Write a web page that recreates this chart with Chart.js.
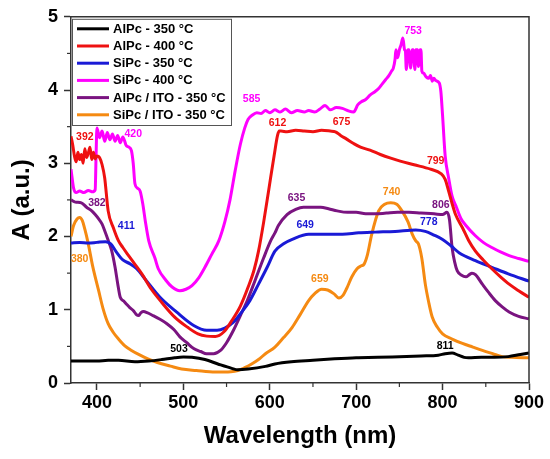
<!DOCTYPE html>
<html>
<head>
<meta charset="utf-8">
<script src="https://cdn.jsdelivr.net/npm/chart.js@4.4.1/dist/chart.umd.min.js"></script>
<style>
  html, body { margin: 0; padding: 0; background: #fff; }
  #wrap { width: 550px; height: 459px; }
</style>
</head>
<body>
<div id="wrap"><canvas id="uv" width="550" height="459"></canvas></div>
<script>
// series labels and colours
const seriesNames = ["AlPc - 350 °C", "AlPc - 400 °C", "SiPc - 350 °C", "SiPc - 400 °C", "AlPc / ITO - 350 °C", "SiPc / ITO - 350 °C"];
const seriesColors = ["#000000", "#ee1111", "#1a1ad6", "#ff00ff", "#7a1480", "#f58a12"];

// AlPc - 350 °C
const blackWl = [370, 385, 400, 413, 425, 444, 460, 475, 490, 500, 510, 525, 540, 556, 563, 575, 595, 606, 625, 650, 675, 700, 725, 750, 775, 795, 803, 811, 818, 825, 830, 845, 860, 876, 890, 900];
const blackA = [0.30, 0.30, 0.30, 0.31, 0.31, 0.29, 0.30, 0.32, 0.345, 0.354, 0.35, 0.32, 0.26, 0.20, 0.18, 0.19, 0.227, 0.26, 0.29, 0.31, 0.33, 0.345, 0.35, 0.36, 0.37, 0.38, 0.40, 0.41, 0.38, 0.35, 0.345, 0.35, 0.35, 0.36, 0.39, 0.41];

// AlPc - 400 °C
const redWl = [370, 372, 374, 376, 378, 380, 382, 384, 386, 388, 390, 392, 394, 396, 398, 400, 403, 406, 409, 413, 419, 425, 430, 436, 444, 452, 463, 475, 490, 505, 517, 527, 537, 547, 556, 566, 575, 582, 587, 593, 599, 605, 609, 611, 613, 620, 630, 640, 650, 660, 670, 676, 682, 689, 697, 705, 716, 728, 740, 751, 767, 786, 798, 803, 807, 811, 815, 823, 830, 838, 847, 857, 867, 877, 888, 900];
const redA = [3.37, 3.25, 3.10, 3.02, 3.15, 3.05, 3.12, 3.00, 3.20, 3.08, 3.14, 3.22, 3.05, 3.15, 3.06, 3.10, 3.08, 2.98, 2.80, 2.35, 2.12, 1.94, 1.85, 1.75, 1.62, 1.49, 1.28, 1.10, 0.90, 0.76, 0.67, 0.64, 0.635, 0.70, 0.85, 1.05, 1.31, 1.55, 1.80, 2.20, 2.65, 3.10, 3.38, 3.44, 3.44, 3.43, 3.45, 3.44, 3.43, 3.45, 3.44, 3.43, 3.38, 3.33, 3.27, 3.22, 3.18, 3.12, 3.07, 3.03, 2.98, 2.92, 2.86, 2.78, 2.62, 2.45, 2.30, 2.12, 1.95, 1.80, 1.68, 1.56, 1.45, 1.35, 1.26, 1.17];

// SiPc - 350 °C
const blueWl = [370, 380, 390, 400, 410, 416, 423, 430, 438, 446, 457, 473, 492, 512, 527, 539, 548, 558, 567, 577, 587, 597, 606, 616, 626, 645, 665, 684, 703, 722, 745, 769, 780, 790, 800, 810, 819, 838, 857, 876, 900];
const blueA = [1.91, 1.92, 1.91, 1.92, 1.93, 1.90, 1.78, 1.68, 1.63, 1.56, 1.40, 1.17, 0.97, 0.785, 0.72, 0.72, 0.75, 0.83, 0.96, 1.125, 1.35, 1.58, 1.80, 1.90, 1.96, 2.03, 2.03, 2.03, 2.05, 2.06, 2.07, 2.09, 2.07, 2.02, 1.96, 1.87, 1.78, 1.67, 1.58, 1.49, 1.39];

// SiPc - 400 °C
const magWl = [370, 373, 376, 380, 385, 390, 395, 398, 399, 400, 403, 406, 409, 412, 415, 418, 421, 424, 427, 430, 434, 437, 440, 442, 444, 447, 450, 453, 456, 460, 467, 471, 480, 487, 496, 503, 510, 518, 525, 533, 541, 548, 554, 560, 566, 571, 575, 580, 585, 590, 595, 600, 606, 612, 618, 625, 632, 640, 645, 652, 658, 664, 670, 677, 684, 690, 697, 702, 706, 711, 716, 722, 726, 730, 734, 738, 741, 743, 745, 746, 748, 750, 752, 754, 756, 757, 758, 760, 761, 763, 765, 766, 768, 769, 771, 772, 774, 775, 776, 778, 781, 784, 786, 788, 790, 792, 796, 798, 800, 803, 807, 811, 816, 821, 827, 838, 847, 857, 867, 877, 888, 900];
const magA = [2.92, 2.66, 2.60, 2.62, 2.60, 2.63, 2.61, 2.64, 3.10, 3.48, 3.35, 3.44, 3.30, 3.42, 3.32, 3.40, 3.30, 3.38, 3.28, 3.36, 3.24, 3.22, 3.17, 3.00, 2.72, 2.66, 2.62, 2.45, 2.21, 1.94, 1.71, 1.56, 1.40, 1.31, 1.26, 1.28, 1.33, 1.44, 1.58, 1.76, 1.94, 2.20, 2.50, 2.90, 3.26, 3.48, 3.60, 3.66, 3.69, 3.68, 3.72, 3.69, 3.73, 3.70, 3.74, 3.69, 3.72, 3.70, 3.72, 3.70, 3.74, 3.79, 3.73, 3.76, 3.75, 3.72, 3.70, 3.80, 3.84, 3.87, 3.93, 3.98, 4.02, 4.08, 4.14, 4.20, 4.26, 4.30, 4.42, 4.55, 4.44, 4.55, 4.62, 4.71, 4.55, 4.53, 4.28, 4.55, 4.55, 4.30, 4.55, 4.55, 4.28, 4.55, 4.55, 4.32, 4.55, 4.55, 4.26, 4.23, 4.18, 4.16, 4.20, 4.12, 4.16, 4.13, 4.10, 3.98, 3.65, 3.10, 2.80, 2.55, 2.40, 2.25, 2.15, 2.01, 1.92, 1.85, 1.79, 1.74, 1.70, 1.66];

// AlPc / ITO - 350 °C
const purpleWl = [370, 375, 382, 388, 394, 398, 402, 406, 409, 413, 417, 421, 424, 427, 431, 434, 438, 442, 446, 448, 451, 454, 458, 465, 473, 481, 489, 496, 504, 512, 520, 527, 535, 543, 550, 558, 566, 574, 583, 593, 601, 606, 610, 620, 630, 639, 649, 659, 668, 678, 690, 700, 711, 722, 735, 748, 761, 775, 790, 800, 805, 808, 811, 814, 817, 822, 827, 831, 834, 838, 846, 853, 861, 869, 877, 888, 900];
const purpleA = [2.50, 2.47, 2.46, 2.40, 2.35, 2.30, 2.24, 2.17, 2.08, 1.95, 1.81, 1.58, 1.36, 1.17, 1.12, 1.08, 1.03, 0.99, 0.93, 0.92, 0.96, 0.975, 0.96, 0.92, 0.87, 0.81, 0.73, 0.63, 0.55, 0.47, 0.43, 0.40, 0.40, 0.445, 0.55, 0.72, 0.92, 1.125, 1.40, 1.71, 1.94, 2.05, 2.15, 2.30, 2.37, 2.40, 2.40, 2.40, 2.38, 2.35, 2.33, 2.33, 2.31, 2.31, 2.32, 2.33, 2.33, 2.32, 2.31, 2.30, 2.33, 2.23, 1.85, 1.65, 1.53, 1.47, 1.45, 1.48, 1.50, 1.48, 1.35, 1.24, 1.125, 1.04, 0.97, 0.91, 0.875];

// SiPc / ITO - 350 °C
const orangeWl = [370, 373, 377, 380, 383, 386, 390, 395, 402, 407, 413, 419, 425, 432, 440, 450, 459, 470, 485, 498, 515, 537, 555, 563, 571, 579, 587, 595, 606, 616, 626, 635, 645, 652, 660, 667, 674, 680, 685, 689, 695, 701, 706, 709, 713, 718, 726, 733, 740, 747, 753, 760, 765, 769, 772, 776, 780, 784, 788, 794, 800, 811, 823, 835, 846, 858, 869, 880, 900];
const orangeA = [2.00, 2.15, 2.24, 2.26, 2.22, 2.10, 1.90, 1.60, 1.26, 1.02, 0.81, 0.69, 0.60, 0.51, 0.445, 0.38, 0.33, 0.28, 0.23, 0.19, 0.17, 0.15, 0.155, 0.17, 0.21, 0.26, 0.32, 0.40, 0.49, 0.62, 0.76, 0.93, 1.125, 1.22, 1.28, 1.27, 1.22, 1.16, 1.20, 1.29, 1.45, 1.56, 1.60, 1.62, 1.75, 2.03, 2.35, 2.44, 2.46, 2.44, 2.35, 2.20, 2.03, 1.94, 1.90, 1.70, 1.35, 1.10, 0.90, 0.76, 0.67, 0.60, 0.54, 0.49, 0.445, 0.40, 0.36, 0.35, 0.345];

// peak labels: text, anchor wavelength, anchor absorbance, series index
const peakText = ["392", "420", "382", "411", "380", "503", "585", "612", "675", "753", "799", "635", "649", "740", "806", "778", "659", "811"];
const peakWl = [386, 442, 400, 434, 380, 495, 579, 609, 683, 766, 792, 631, 641, 741, 798, 784, 658, 803];
const peakA = [3.36, 3.40, 2.46, 2.14, 1.69, 0.46, 3.87, 3.55, 3.56, 4.81, 3.03, 2.53, 2.15, 2.61, 2.43, 2.19, 1.42, 0.51];
const peakSeries = [1, 3, 4, 2, 5, 0, 3, 1, 1, 3, 1, 4, 2, 5, 4, 2, 5, 0];

const xMajor = [400, 500, 600, 700, 800, 900];
const xMinor = [450, 550, 650, 750, 850];
const yMajor = [0, 1, 2, 3, 4, 5];
const yMinor = [0.5, 1.5, 2.5, 3.5, 4.5];

const allWl = [blackWl, redWl, blueWl, magWl, purpleWl, orangeWl];
const allA = [blackA, redA, blueA, magA, purpleA, orangeA];

const FONT = "'Liberation Sans', Arial, sans-serif";
const AXIS = "#333333";

const datasets = seriesNames.map((name, i) => ({
    label: name,
    data: allWl[i].map((w, k) => ({ x: w, y: allA[i][k] })),
    borderColor: seriesColors[i],
    backgroundColor: seriesColors[i],
    borderWidth: 3,
    pointRadius: 0,
    cubicInterpolationMode: "monotone",
    fill: false
}));

// minor ticks, top/right frame
const framePlugin = {
    id: "frame",
    afterDraw(chart) {
        const { ctx, chartArea: a, scales: { x, y } } = chart;
        ctx.save();
        ctx.strokeStyle = AXIS;
        ctx.lineWidth = 1.5;
        ctx.beginPath();
        ctx.moveTo(a.left, a.top);
        ctx.lineTo(a.right, a.top);
        ctx.lineTo(a.right, a.bottom);
        ctx.stroke();
        ctx.lineWidth = 1.2;
        xMinor.forEach(v => {
            const px = x.getPixelForValue(v);
            ctx.beginPath();
            ctx.moveTo(px, a.bottom);
            ctx.lineTo(px, a.bottom + 4);
            ctx.stroke();
        });
        yMinor.forEach(v => {
            const py = y.getPixelForValue(v);
            ctx.beginPath();
            ctx.moveTo(a.left, py);
            ctx.lineTo(a.left - 4, py);
            ctx.stroke();
        });
        ctx.restore();
    }
};

// peak labels
const peakPlugin = {
    id: "peaks",
    afterDatasetsDraw(chart) {
        const { ctx, scales: { x, y } } = chart;
        ctx.save();
        ctx.font = "bold 10.5px " + FONT;
        ctx.textAlign = "center";
        ctx.textBaseline = "middle";
        peakText.forEach((t, i) => {
            ctx.fillStyle = seriesColors[peakSeries[i]];
            ctx.fillText(t, x.getPixelForValue(peakWl[i]), y.getPixelForValue(peakA[i]));
        });
        ctx.restore();
    }
};

// boxed legend inside the plot
const legendPlugin = {
    id: "boxLegend",
    afterDraw(chart) {
        const { ctx, chartArea: a } = chart;
        const left = a.left + 1, top = a.top + 2, w = 159, rowH = 17.2;
        ctx.save();
        ctx.fillStyle = "#fff";
        ctx.fillRect(left, top, w, rowH * 6 + 3);
        ctx.strokeStyle = "#555";
        ctx.lineWidth = 1;
        ctx.strokeRect(left + 0.5, top + 0.5, w, rowH * 6 + 3);
        ctx.font = "bold 13px " + FONT;
        ctx.textBaseline = "middle";
        chart.data.datasets.forEach((ds, i) => {
            const cy = top + 10 + i * rowH;
            ctx.strokeStyle = ds.borderColor;
            ctx.lineWidth = 3;
            ctx.beginPath();
            ctx.moveTo(left + 5, cy);
            ctx.lineTo(left + 37, cy);
            ctx.stroke();
            ctx.fillStyle = "#000";
            ctx.fillText(ds.label, left + 41, cy + 0.5);
        });
        ctx.restore();
    }
};

new Chart(document.getElementById("uv"), {
    type: "line",
    data: { datasets: datasets },
    options: {
        responsive: false,
        animation: false,
        layout: { padding: { top: 15, right: 21, left: 0, bottom: 0 } },
        plugins: { legend: { display: false }, tooltip: { enabled: false } },
        scales: {
            x: {
                type: "linear",
                min: 370,
                max: 900,
                afterBuildTicks: s => { s.ticks = xMajor.map(v => ({ value: v })); },
                afterFit: s => { s.height = 76; },
                ticks: { color: "#000", font: { family: FONT, size: 18, weight: "bold" }, padding: 2, maxRotation: 0 },
                grid: { drawOnChartArea: false, tickLength: 7, tickWidth: 1.5, tickColor: AXIS },
                border: { color: AXIS, width: 1.5 },
                title: { display: true, text: "Wavelength (nm)", color: "#000", font: { family: FONT, size: 24, weight: "bold" }, padding: { top: 0, bottom: 8 } }
            },
            y: {
                type: "linear",
                min: 0,
                max: 5,
                afterBuildTicks: s => { s.ticks = yMajor.map(v => ({ value: v })); },
                afterFit: s => { s.width = 71; },
                ticks: { color: "#000", font: { family: FONT, size: 18, weight: "bold" }, padding: 6 },
                grid: { drawOnChartArea: false, tickLength: 7, tickWidth: 1.5, tickColor: AXIS },
                border: { color: AXIS, width: 1.5 },
                title: { display: true, text: "A (a.u.)", color: "#000", font: { family: FONT, size: 24, weight: "bold" }, padding: { top: 8, bottom: 0 } }
            }
        }
    },
    plugins: [framePlugin, peakPlugin, legendPlugin]
});
</script>
</body>
</html>
